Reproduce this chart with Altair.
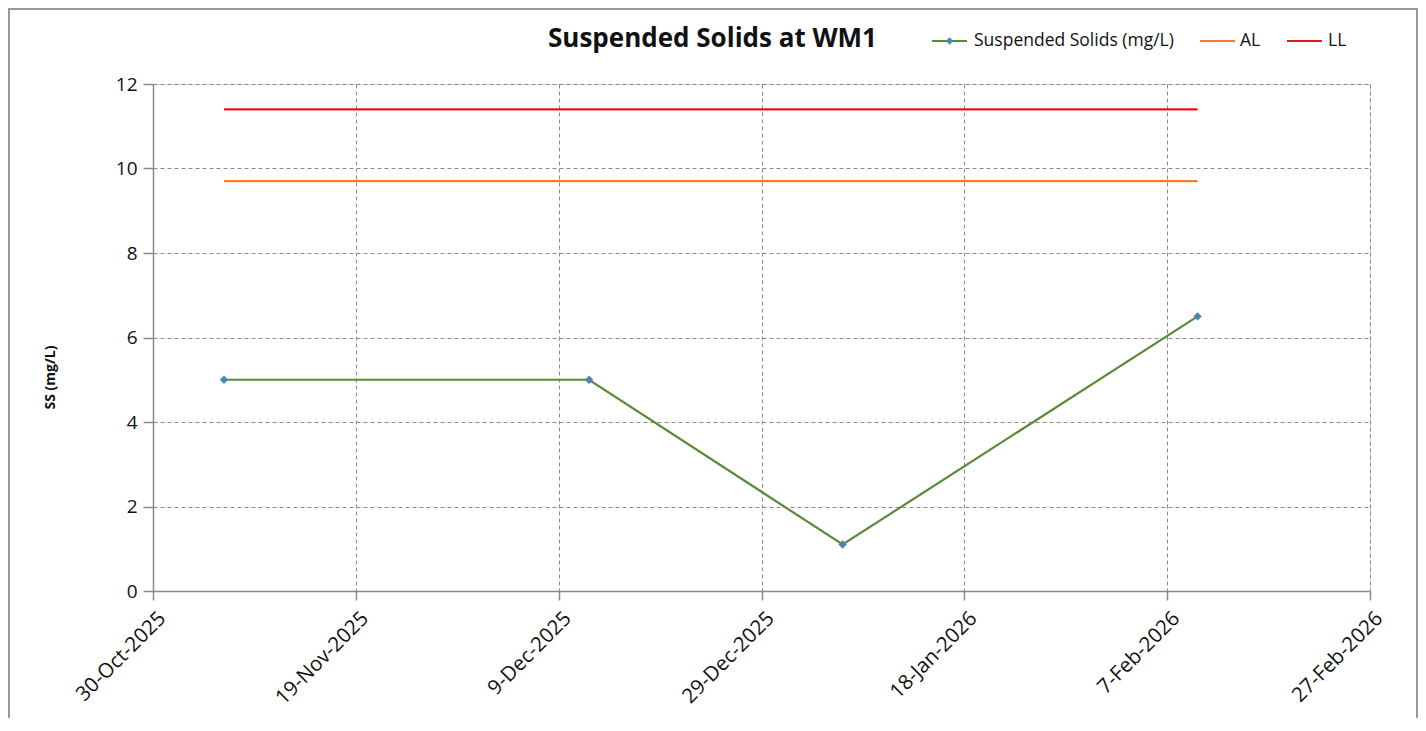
import altair as alt
import pandas as pd

# ---------------- data ----------------
dates = ["2025-11-06", "2025-12-12", "2026-01-06", "2026-02-10"]
ss = [5.0, 5.0, 1.1, 6.5]
al = [9.7, 9.7, 9.7, 9.7]
ll = [11.4, 11.4, 11.4, 11.4]
series_names = ["Suspended Solids (mg/L)", "AL", "LL"]
series_colors = ["#5b8b34", "#ED7D31", "#E3161E"]
marker_color = "#4a86b0"
x_tick_dates = [(2025, 10, 30), (2025, 11, 19), (2025, 12, 9), (2025, 12, 29),
                (2026, 1, 18), (2026, 2, 7), (2026, 2, 27)]
y_ticks = [0, 2, 4, 6, 8, 10, 12]
title_text = "Suspended Solids at WM1"
y_title = "SS (mg/L)"

FONT = "Open Sans"
W, H = 1217, 507

rows = []
for name, vals in zip(series_names, [ss, al, ll]):
    for d, v in zip(dates, vals):
        rows.append({"date": d, "value": v, "series": name})
df = pd.DataFrame(rows)
df_ss = df[df["series"] == series_names[0]]

def dt(t):
    return alt.DateTime(year=t[0], month=t[1], date=t[2], utc=True)

x_enc = alt.X(
    "date:T",
    scale=alt.Scale(type="utc", domain=[dt(x_tick_dates[0]), dt(x_tick_dates[-1])], nice=False),
    axis=alt.Axis(
        values=[dt(t) for t in x_tick_dates],
        format="%-d-%b-%Y",
        labelAngle=-45,
        labelAlign="right",
        labelBaseline="middle",
        labelFont=FONT,
        labelFontSize=20.5,
        labelColor="#111",
        labelPadding=15,
        labelOffset=9,
        tickSize=9,
        tickColor="#8a8a8a",
        tickWidth=1.5,
        domainColor="#8a8a8a",
        domainWidth=1.5,
        grid=True,
        gridColor="#8a8a8a",
        gridDash=[4, 3],
        gridWidth=1,
        title=None,
        labelOverlap=False,
    ),
)
y_enc = alt.Y(
    "value:Q",
    scale=alt.Scale(domain=[0, 12], nice=False),
    axis=alt.Axis(
        values=y_ticks,
        labelFont=FONT,
        labelFontSize=19,
        labelColor="#111",
        labelPadding=6,
        tickSize=10,
        tickColor="#8a8a8a",
        tickWidth=1.5,
        domainColor="#8a8a8a",
        domainWidth=1.5,
        grid=True,
        gridColor="#8a8a8a",
        gridDash=[4, 3],
        gridWidth=1,
        title=y_title,
        titleFont=FONT,
        titleFontSize=14,
        titleFontWeight="bold",
        titleColor="#111",
        titleAngle=-90,
        titleAlign="center",
        titleBaseline="middle",
        titleX=-103,
        titleY=293,
    ),
)

lines = alt.Chart(df).mark_line(strokeWidth=2.2).encode(
    x=x_enc,
    y=y_enc,
    color=alt.Color("series:N",
                    scale=alt.Scale(domain=series_names, range=series_colors),
                    legend=None),
    detail="series:N",
)

points = alt.Chart(df_ss).mark_point(
    shape="diamond", filled=True, size=70, color=marker_color, opacity=1
).encode(x=alt.X("date:T"), y=alt.Y("value:Q"))

one = alt.Data(values=[{}])

# chart title (drawn as text so it is not pushed by the decorations' bounds)
title = alt.Chart(one).mark_text(
    align="center", baseline="alphabetic", font=FONT, fontSize=26,
    fontWeight="bold", color="#111", clip=False
).encode(x=alt.value(559.5), y=alt.value(-37), text=alt.value(title_text))

# outer border of chart
border = alt.Chart(one).mark_rect(
    fill="transparent", stroke="#9a9a9a", strokeWidth=2, clip=False
).encode(
    x=alt.value(-144), x2=alt.value(W + 47),
    y=alt.value(-75), y2=alt.value(H + 200),
)

# manual legend (decoration)
leg_y = -43
leg_items = []
leg_specs = [
    (series_names[0], series_colors[0], 779, 814, 821, True),
    (series_names[1], series_colors[1], 1047, 1082, 1087, False),
    (series_names[2], series_colors[2], 1134, 1169, 1175, False),
]
for label, col, x1, x2, xt, diamond in leg_specs:
    leg_items.append(
        alt.Chart(one).mark_rule(color=col, strokeWidth=2.2, clip=False).encode(
            x=alt.value(x1), x2=alt.value(x2), y=alt.value(leg_y)
        )
    )
    if diamond:
        leg_items.append(
            alt.Chart(one).mark_point(shape="diamond", filled=True, size=55,
                                      color=marker_color, opacity=1, clip=False).encode(
                x=alt.value((x1 + x2) / 2), y=alt.value(leg_y)
            )
        )
    leg_items.append(
        alt.Chart(one).mark_text(align="left", baseline="middle", font=FONT,
                                 fontSize=17.5, color="#111", clip=False).encode(
            x=alt.value(xt), y=alt.value(leg_y), text=alt.value(label)
        )
    )

chart = alt.layer(lines, points, border, title, *leg_items).properties(
    width=W,
    height=H,
    autosize=alt.AutoSizeParams(type="none"),
    padding={"left": 145, "top": 76, "right": 48, "bottom": 127},
).configure_view(strokeWidth=0).configure(background="white")

chart.save("out.html", embed_options={"renderer": "svg", "actions": False})
